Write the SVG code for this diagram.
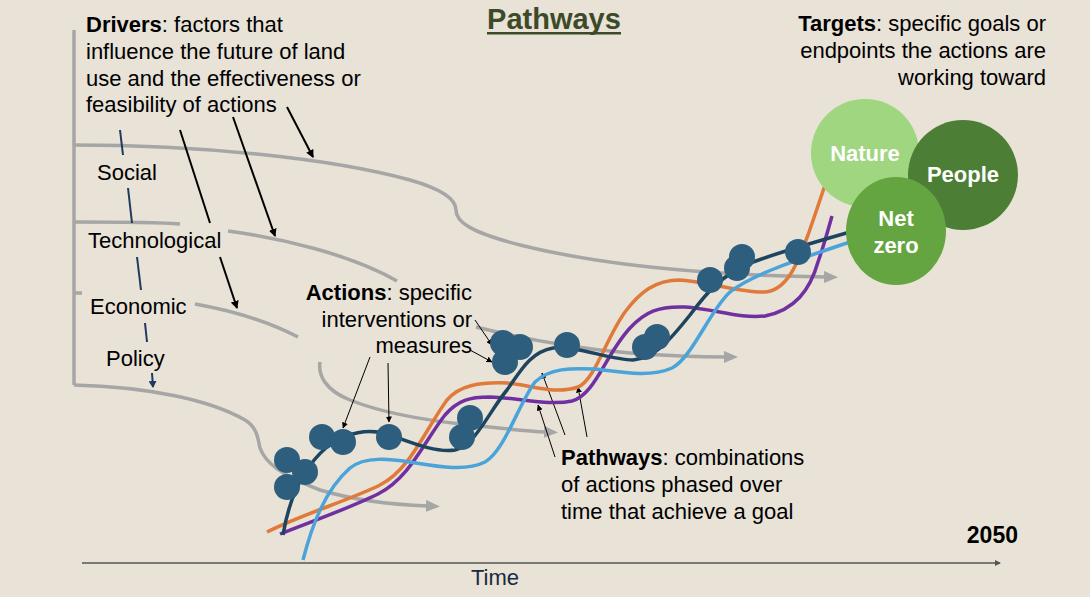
<svg xmlns="http://www.w3.org/2000/svg" width="1090" height="597" viewBox="0 0 1090 597">
<defs>
<style>
text{font-family:"Liberation Sans",Arial,sans-serif;}
.t{font-size:22px;fill:#000;}
.b{font-weight:bold;}
.drv{fill:none;stroke:#a6a6a6;stroke-width:3.5;stroke-linecap:butt;}
.nav{fill:none;stroke:#1f3a5f;stroke-width:2;}
.blk{fill:none;stroke:#000;stroke-width:2;}
.thin{fill:none;stroke:#000;stroke-width:1;}
.pw{fill:none;stroke-width:3.5;stroke-linecap:butt;}
.dot{fill:#2e5e7e;}
.ct{font-size:22px;font-weight:bold;fill:#fff;text-anchor:middle;}
</style>
<marker id="ag" markerWidth="14" markerHeight="12" refX="2" refY="6" orient="auto" markerUnits="userSpaceOnUse"><path d="M0,0 L14,6 L0,12 Z" fill="#a6a6a6"/></marker>
<marker id="ab" markerWidth="8" markerHeight="8" refX="7" refY="4" orient="auto" markerUnits="userSpaceOnUse"><path d="M0,0 L8,4 L0,8 Z" fill="#000"/></marker>
<marker id="abs" markerWidth="6" markerHeight="6" refX="5.5" refY="3" orient="auto" markerUnits="userSpaceOnUse"><path d="M0,0 L6,3 L0,6 Z" fill="#000"/></marker>
<marker id="an" markerWidth="7" markerHeight="8" refX="6" refY="4" orient="auto" markerUnits="userSpaceOnUse"><path d="M0,0 L7,4 L0,8 Z" fill="#1f3a5f"/></marker>
<marker id="at" markerWidth="6" markerHeight="6" refX="5" refY="3" orient="auto" markerUnits="userSpaceOnUse"><path d="M0,0 L6,3 L0,6 Z" fill="#555"/></marker>
</defs>
<rect width="1090" height="597" fill="#e8e2d7"/>

<g id="connectors">
  <path class="drv" d="M74,30 L74,385"/>
  <path class="drv" d="M74,145 C200,145 330,158 410,180 C445,190 456,200 456,210 C456,222 470,232 520,245 C600,265 700,275 826,277" marker-end="url(#ag)"/>
  <path class="drv" d="M74,222 C120,222 155,222 180,224"/>
  <path class="drv" d="M228,231 C280,238 350,254 397,281"/>
  <path class="drv" d="M476,327 C520,338 570,348 630,353 C670,356 700,357 726,357" marker-end="url(#ag)"/>
  <path class="drv" d="M74,293 L82,293"/>
  <path class="drv" d="M195,304 C240,312 275,325 298,337"/>
  <path class="drv" d="M320,362 C318,375 325,390 350,400 C380,412 420,420 470,425 C500,428 525,431 546,432" marker-end="url(#ag)"/>
  <path class="drv" d="M74,385 C150,387 210,400 245,420 C258,428 258,440 260,448 C265,462 280,475 320,490 C360,502 400,505 428,506" marker-end="url(#ag)"/>

  <path class="nav" d="M120,130 L123,155"/>
  <path class="nav" d="M128,188 L132,223"/>
  <path class="nav" d="M137,257 L141,290"/>
  <path class="nav" d="M145,323 L147,342"/>
  <path class="nav" d="M152,373 L153,387" marker-end="url(#an)"/>

  <path class="blk" d="M180,130 L210,223"/>
  <path class="blk" d="M220,257 L237,308" marker-end="url(#ab)"/>
  <path class="blk" d="M233,117 L275,236" marker-end="url(#ab)"/>
  <path class="blk" d="M287,107 L313,157" marker-end="url(#ab)"/>

  <path class="thin" d="M370,357 L343,428" marker-end="url(#abs)"/>
  <path class="thin" d="M388,363 L389,422" marker-end="url(#abs)"/>
  <path class="thin" d="M475,320 L492,345" marker-end="url(#abs)"/>
  <path class="thin" d="M470,350 L492,362" marker-end="url(#abs)"/>

  <path class="thin" d="M565,435 L542,373" marker-end="url(#abs)"/>
  <path class="thin" d="M587,437 L578,387" marker-end="url(#abs)"/>
  <path class="thin" d="M555,457 L538,405" marker-end="url(#abs)"/>

  <path class="pw" stroke="#7030a0" d="M280,534 C310,522 350,508 378,494 C410,478 425,440 445,415 C458,400 470,397 490,397 C520,398 550,406 572,401 C595,395 605,355 630,328 C645,312 658,306 685,307 C715,309 740,319 765,316 C795,310 810,290 818,262 C824,245 828,230 832,216"/>
  <path class="pw" stroke="#e07a3a" d="M267,532 C300,515 350,500 380,485 C410,470 425,430 447,400 C460,385 480,382 507,383 C530,385 555,395 578,387 C595,380 605,340 625,312 C640,292 655,280 680,280 C710,282 740,293 765,292 C790,290 800,255 808,235 C815,215 820,200 825,185"/>
  <path class="pw" stroke="#4aa3d9" d="M303,560 C312,525 325,490 350,468 C365,456 390,459 410,462 C435,466 465,472 485,462 C505,450 518,405 535,382 C550,368 570,368 595,369 C620,372 650,378 672,368 C692,358 710,310 730,292 C750,276 790,262 850,242"/>
  <path class="pw" stroke="#1e4560" d="M283,535 C288,505 300,470 327,447 C345,432 370,428 390,435 C410,442 435,453 455,450 C475,446 490,410 507,390 C520,372 530,352 553,348 C575,345 610,360 633,360 C655,358 670,340 690,315 C705,295 720,275 753,262 C780,252 815,242 850,232"/>

  <path d="M82,563 L1000,563" stroke="#555" stroke-width="1.5" fill="none" marker-end="url(#at)"/>
</g>

<g id="actions-dots">
  <circle class="dot" cx="287" cy="460" r="13"/>
  <circle class="dot" cx="305" cy="472" r="13"/>
  <circle class="dot" cx="287" cy="487" r="13"/>
  <circle class="dot" cx="322" cy="437" r="13"/>
  <circle class="dot" cx="343" cy="442" r="13"/>
  <circle class="dot" cx="389" cy="437" r="13"/>
  <circle class="dot" cx="470" cy="418" r="13"/>
  <circle class="dot" cx="462" cy="437" r="13"/>
  <circle class="dot" cx="503" cy="343" r="13"/>
  <circle class="dot" cx="520" cy="347" r="13"/>
  <circle class="dot" cx="505" cy="362" r="13"/>
  <circle class="dot" cx="567" cy="345" r="13"/>
  <circle class="dot" cx="657" cy="337" r="13"/>
  <circle class="dot" cx="645" cy="347" r="13"/>
  <circle class="dot" cx="710" cy="280" r="13"/>
  <circle class="dot" cx="742" cy="257" r="13"/>
  <circle class="dot" cx="737" cy="268" r="13"/>
  <circle class="dot" cx="798" cy="252" r="13"/>
</g>

<g id="title">
  <text x="554" y="29" text-anchor="middle" font-size="29" font-weight="bold" fill="#3d4a27">Pathways</text>
  <rect x="487" y="32" width="134" height="2.5" fill="#3d4a27"/>
</g>

<g id="drivers">
  <text class="t" x="86" y="32"><tspan class="b">Drivers</tspan>: factors that</text>
  <text class="t" x="86" y="59">influence the future of land</text>
  <text class="t" x="86" y="86">use and the effectiveness or</text>
  <text class="t" x="86" y="112">feasibility of actions</text>
</g>
<g id="social"><text class="t" x="97" y="180">Social</text></g>
<g id="technological"><text class="t" x="88" y="248">Technological</text></g>
<g id="economic"><text class="t" x="90" y="314">Economic</text></g>
<g id="policy"><text class="t" x="106" y="366">Policy</text></g>

<g id="actions">
  <text class="t" x="472" y="300" text-anchor="end"><tspan class="b">Actions</tspan>: specific</text>
  <text class="t" x="472" y="327" text-anchor="end">interventions or</text>
  <text class="t" x="472" y="353" text-anchor="end">measures</text>
</g>

<g id="pathways-label">
  <text class="t" x="561" y="465"><tspan class="b">Pathways</tspan>: combinations</text>
  <text class="t" x="561" y="492">of actions phased over</text>
  <text class="t" x="561" y="519">time that achieve a goal</text>
</g>

<g id="targets">
  <text class="t" x="1046" y="31" text-anchor="end"><tspan class="b">Targets</tspan>: specific goals or</text>
  <text class="t" x="1046" y="58" text-anchor="end">endpoints the actions are</text>
  <text class="t" x="1046" y="85" text-anchor="end">working toward</text>
</g>

<g id="nature">
  <circle cx="865" cy="153" r="54" fill="#a0d67f"/>
  <text class="ct" x="865" y="161">Nature</text>
</g>
<g id="people">
  <circle cx="963" cy="175" r="55" fill="#4c7f35"/>
  <text class="ct" x="963" y="182">People</text>
</g>
<g id="netzero">
  <ellipse cx="896" cy="231" rx="50" ry="54" fill="#64a541"/>
  <text class="ct" x="896" y="226">Net</text>
  <text class="ct" x="896" y="253">zero</text>
</g>

<g id="year"><text class="b" x="1018" y="543" text-anchor="end" font-size="23" fill="#000">2050</text></g>
<g id="time"><text x="495" y="585" text-anchor="middle" font-size="22" fill="#1a2a40">Time</text></g>
</svg>
